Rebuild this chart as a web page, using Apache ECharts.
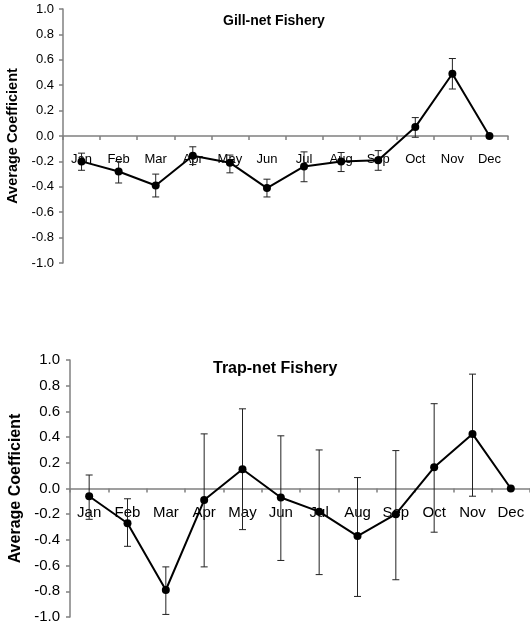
<!DOCTYPE html>
<html>
<head>
<meta charset="utf-8">
<script src="https://cdn.jsdelivr.net/npm/echarts@6/dist/echarts.min.js"></script>
<style>
  html, body { margin: 0; padding: 0; background: #fff; }
  #main { width: 530px; height: 627px; }
</style>
</head>
<body>
<div id="main"></div>
<script>
var months = ['Jan', 'Feb', 'Mar', 'Apr', 'May', 'Jun', 'Jul', 'Aug', 'Sep', 'Oct', 'Nov', 'Dec'];

// Gill-net fishery: mean coefficient and error bar ends
var gillMean = [-0.20, -0.28, -0.39, -0.155, -0.21, -0.41, -0.24, -0.20, -0.19, 0.07, 0.49, 0.0];
var gillLow  = [-0.27, -0.37, -0.48, -0.225, -0.29, -0.48, -0.36, -0.28, -0.27, -0.01, 0.37, null];
var gillHigh = [-0.135, -0.20, -0.30, -0.085, -0.15, -0.34, -0.125, -0.13, -0.115, 0.145, 0.61, null];

// Trap-net fishery
var trapMean = [-0.06, -0.27, -0.79, -0.09, 0.15, -0.07, -0.18, -0.37, -0.20, 0.165, 0.425, 0.0];
var trapLow  = [-0.24, -0.45, -0.98, -0.61, -0.32, -0.56, -0.67, -0.84, -0.71, -0.34, -0.06, null];
var trapHigh = [0.105, -0.08, -0.61, 0.425, 0.62, 0.41, 0.30, 0.085, 0.295, 0.66, 0.89, null];

var font = 'Liberation Sans, Arial, sans-serif';
var axisGray = '#808080';

function errData(low, high) {
  var out = [];
  for (var i = 0; i < low.length; i++) {
    if (low[i] == null) continue;
    out.push([i, low[i], high[i]]);
  }
  return out;
}

function errRender(params, api) {
  var x = api.value(0);
  var lo = api.coord([x, api.value(1)]);
  var hi = api.coord([x, api.value(2)]);
  var w = 3.5;
  var style = { stroke: '#222', lineWidth: 1 };
  return {
    type: 'group',
    children: [
      { type: 'line', shape: { x1: hi[0], y1: hi[1], x2: lo[0], y2: lo[1] }, style: style },
      { type: 'line', shape: { x1: hi[0] - w, y1: hi[1], x2: hi[0] + w, y2: hi[1] }, style: style },
      { type: 'line', shape: { x1: lo[0] - w, y1: lo[1], x2: lo[0] + w, y2: lo[1] }, style: style }
    ]
  };
}

function makeY(idx, fs, margin, nameSize, nameGap) {
  return {
    gridIndex: idx,
    type: 'value',
    min: -1, max: 1, interval: 0.2,
    name: 'Average Coefficient',
    nameLocation: 'middle',
    nameRotate: 90,
    nameGap: nameGap,
    nameTextStyle: { fontFamily: font, fontWeight: 'bold', fontSize: nameSize, color: '#000' },
    axisLine: { show: true, lineStyle: { color: axisGray, width: 1.5 } },
    axisTick: { show: true, length: 4, lineStyle: { color: axisGray, width: 1.5 } },
    axisLabel: {
      fontFamily: font, fontSize: fs, color: '#000', margin: margin,
      formatter: function (v) { return v.toFixed(1); }
    },
    splitLine: { show: false }
  };
}

// x axis sits on the zero line: shift it up by half the grid height
function makeX(idx, fs, margin, shift) {
  return {
    gridIndex: idx,
    type: 'category',
    data: months,
    boundaryGap: true,
    position: 'bottom',
    offset: -shift,
    axisLine: { onZero: false, lineStyle: { color: axisGray, width: 1.5 } },
    axisTick: { show: true, length: 4, lineStyle: { color: axisGray, width: 1.5 } },
    axisLabel: { fontFamily: font, fontSize: fs, color: '#000', margin: margin, interval: 0 },
    splitLine: { show: false }
  };
}

var chart = echarts.init(document.getElementById('main'));
var option = {
  backgroundColor: '#fff',
  animation: false,
  title: [
    { text: 'Gill-net Fishery', left: 223, top: 14, padding: 0,
      textStyle: { fontFamily: font, fontWeight: 'bold', fontSize: 14, color: '#000' } },
    { text: 'Trap-net Fishery', left: 213, top: 361, padding: 0,
      textStyle: { fontFamily: font, fontWeight: 'bold', fontSize: 16, color: '#000' } }
  ],
  grid: [
    { left: 63, top: 9, width: 445, height: 254, outerBoundsMode: 'none', containLabel: false },
    { left: 70, top: 360, width: 460, height: 257, outerBoundsMode: 'none', containLabel: false }
  ],
  xAxis: [makeX(0, 13, 17, 127), makeX(1, 15, 17, 128.5)],
  yAxis: [makeY(0, 13, 9, 14.5, 41), makeY(1, 15, 10, 16, 44)],
  series: [
    {
      type: 'custom', xAxisIndex: 0, yAxisIndex: 0,
      renderItem: errRender, data: errData(gillLow, gillHigh), z: 3
    },
    {
      type: 'line', xAxisIndex: 0, yAxisIndex: 0, data: gillMean,
      symbol: 'circle', symbolSize: 8,
      lineStyle: { color: '#000', width: 2 },
      itemStyle: { color: '#000' }, z: 4
    },
    {
      type: 'custom', xAxisIndex: 1, yAxisIndex: 1,
      renderItem: errRender, data: errData(trapLow, trapHigh), z: 3
    },
    {
      type: 'line', xAxisIndex: 1, yAxisIndex: 1, data: trapMean,
      symbol: 'circle', symbolSize: 8,
      lineStyle: { color: '#000', width: 2 },
      itemStyle: { color: '#000' }, z: 4
    }
  ]
};
chart.setOption(option);
</script>
</body>
</html>
